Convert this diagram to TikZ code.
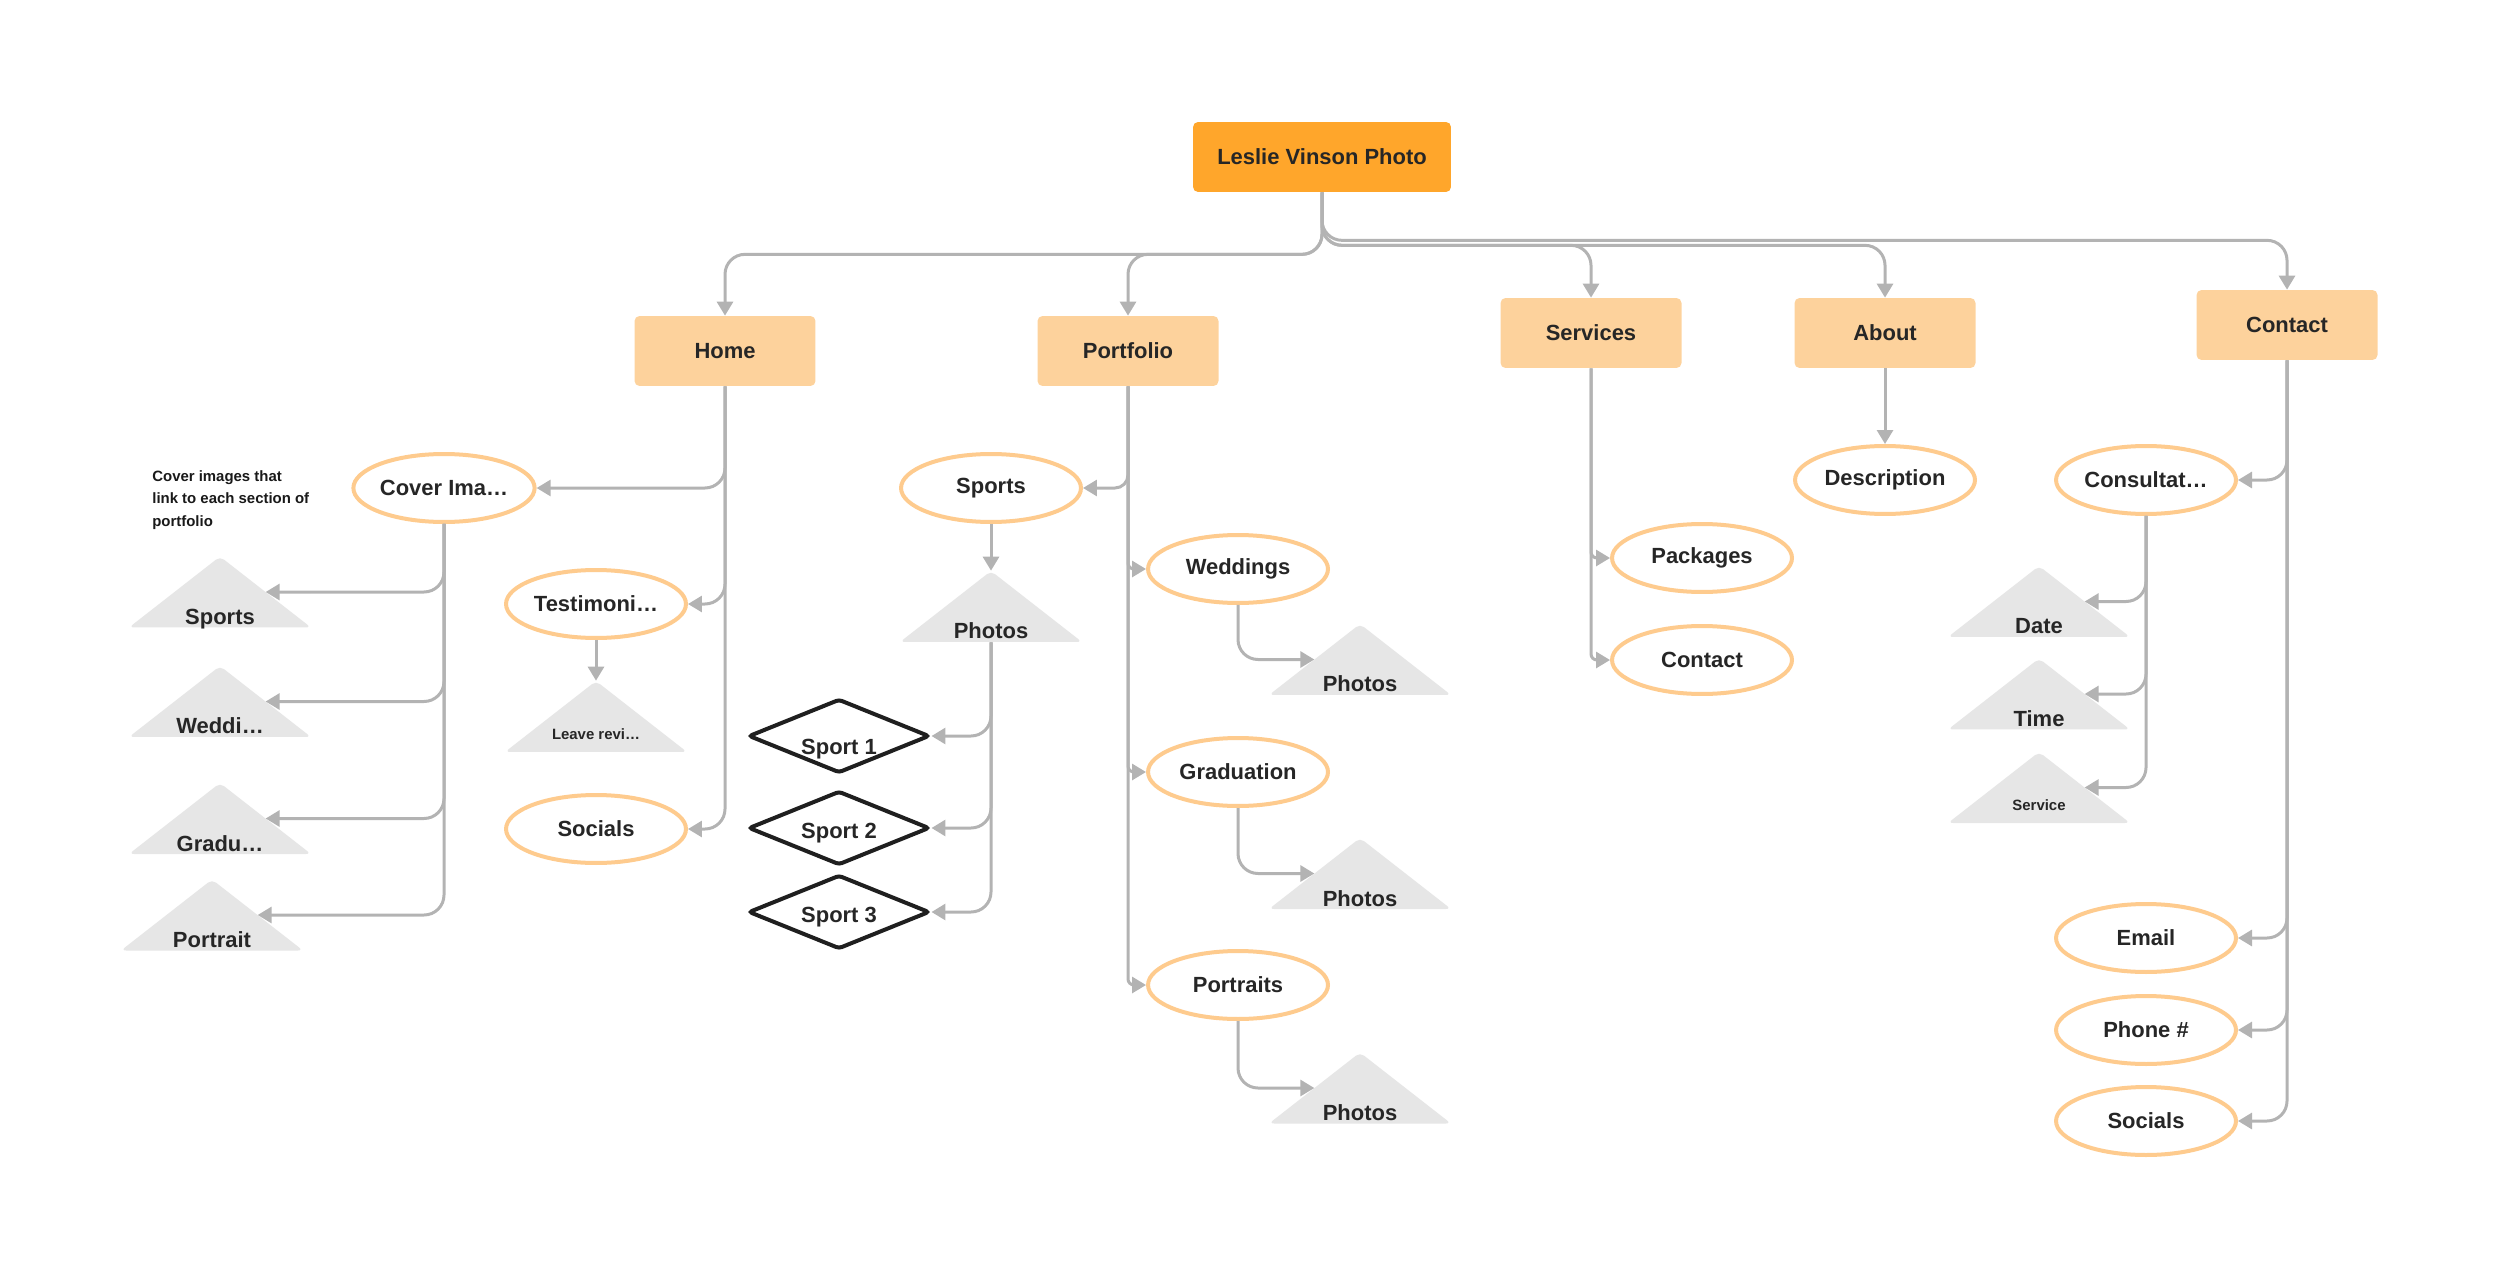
\documentclass[tikz,border=0pt]{standalone}
\usepackage{fontspec}
\setmainfont{Liberation Sans}
\usetikzlibrary{positioning,calc,arrows.meta,shapes.geometric}
\definecolor{rootorange}{HTML}{FFA62B}
\definecolor{pagepeach}{HTML}{FDD29C}
\definecolor{ovalline}{HTML}{FECB8E}
\definecolor{trigray}{HTML}{E6E6E6}
\definecolor{linkgray}{HTML}{B3B3B3}
\definecolor{inkdark}{HTML}{262626}

\begin{document}
\begin{tikzpicture}[x=0.02cm, y=-0.02cm,
	every node/.style={font=\fontsize{12.5}{15}\selectfont\bfseries, text=inkdark},
	rootbox/.style={fill=rootorange, rounded corners=0.1cm, minimum width=5.16cm, minimum height=1.4cm},
	pagebox/.style={fill=pagepeach, rounded corners=0.1cm, minimum width=3.62cm, minimum height=1.4cm},
	oval/.style={ellipse, draw=ovalline, line width=0.08cm, fill=white, minimum width=3.6cm, minimum height=1.36cm, inner sep=0pt},
	tri/.style={fill=white, inner sep=0pt, minimum width=3.64cm, minimum height=1.42cm, text height=1.3cm, text depth=0pt,
		path picture={\fill[trigray, rounded corners=0.1cm] (path picture bounding box.south west) -- (path picture bounding box.north) -- (path picture bounding box.south east) -- cycle;}},
	smalltri/.style={tri, text height=0.9cm, font=\fontsize{8.5}{10}\selectfont\bfseries},
	sportbox/.style={diamond, draw=black!88, line width=0.08cm, rounded corners=0.06cm, aspect=2.45, minimum width=3.62cm, minimum height=1.48cm, inner sep=0pt, text height=0.42cm, text depth=0pt},
	link/.style={draw=linkgray, line width=0.06cm, rounded corners=0.4cm, -{Triangle[length=0.28cm, width=0.32cm]}},
	shortlink/.style={link, rounded corners=0.12cm},
	]
\useasboundingbox (0,0) rectangle (2500,1280);

\node[rootbox] (leslie) at (1322,157) {Leslie Vinson Photo};
\node[pagebox] (home) at (725,351) {Home};
\node[pagebox] (portfolio) at (1128,351) {Portfolio};
\node[pagebox] (services) at (1591,333) {Services};
\node[pagebox] (about) at (1885,333) {About};
\node[pagebox] (contact) at (2287,325) {Contact};

\node[font=\fontsize{8.5}{12.8}\selectfont\bfseries, text=black!90, align=left, anchor=north west, inner sep=0pt] (covernote) at (152,470) {Cover images that\\link to each section of\\portfolio};
\node[oval] (coverimg) at (444,488) {Cover Ima…};
\node[tri] (cvsports) at (220,592) {Sports};
\node[tri] (cvweddings) at (220,701.5) {Weddi…};
\node[tri] (cvgrad) at (220,818.5) {Gradu…};
\node[tri] (cvportrait) at (212,915) {Portrait};
\node[oval] (testimonials) at (596,604) {Testimoni…};
\node[smalltri] (review) at (596,716.5) {Leave revi…};
\node[oval] (homesocials) at (596,829) {Socials};

\node[oval] (pfsports) at (991,488) {Sports};
\node[tri] (sportphotos) at (991,606.5) {Photos};
\node[sportbox, text height=0.72cm] (sport1) at (839,736) {Sport 1};
\node[sportbox] (sport2) at (839,828) {Sport 2};
\node[sportbox] (sport3) at (839,912) {Sport 3};
\node[oval] (weddings) at (1238,569) {Weddings};
\node[tri] (wedphotos) at (1360,659.5) {Photos};
\node[oval] (graduation) at (1238,772) {Graduation};
\node[tri] (gradphotos) at (1360,873.5) {Photos};
\node[oval] (portraits) at (1238,985) {Portraits};
\node[tri] (portphotos) at (1360,1088) {Photos};

\node[oval] (packages) at (1702,558) {Packages};
\node[oval] (svcontact) at (1702,660) {Contact};
\node[oval] (description) at (1885,480) {Description};

\node[oval] (consultation) at (2146,480) {Consultat…};
\node[tri] (date) at (2039,601.5) {Date};
\node[tri] (time) at (2039,694) {Time};
\node[smalltri] (service) at (2039,787.5) {Service};
\node[oval] (email) at (2146,938) {Email};
\node[oval] (phone) at (2146,1030) {Phone \#};
\node[oval] (ctsocials) at (2146,1121) {Socials};

\draw[link] (leslie.south) -- ++(0,62) -| (home.north);
\draw[link] (leslie.south) -- ++(0,62) -| (portfolio.north);
\draw[link] (leslie.south) -- ++(0,53) -| (services.north);
\draw[link] (leslie.south) -- ++(0,53) -| (about.north);
\draw[link] (leslie.south) -- ++(0,48) -| (contact.north);

\draw[link] (home.south) |- (coverimg.east);
\draw[link] (home.south) |- (testimonials.east);
\draw[link] (home.south) |- (homesocials.east);
\draw[link] (testimonials.south) -- (review.north);
\foreach \t in {cvsports,cvweddings,cvgrad,cvportrait}
	\draw[link] (coverimg.south) |- ($(\t.north)!.5!(\t.south east)$);

\draw[link, rounded corners=0.26cm] (portfolio.south) |- (pfsports.east);
\foreach \s in {weddings,graduation,portraits}
	\draw[shortlink] (portfolio.south) |- (\s.west);
\draw[link] (pfsports.south) -- (sportphotos.north);
\foreach \s in {sport1,sport2,sport3}
	\draw[link] (sportphotos.south) |- (\s.east);
\draw[link] (weddings.south) |- ($(wedphotos.north)!.5!(wedphotos.south west)$);
\draw[link] (graduation.south) |- ($(gradphotos.north)!.5!(gradphotos.south west)$);
\draw[link] (portraits.south) |- ($(portphotos.north)!.5!(portphotos.south west)$);

\draw[shortlink] (services.south) |- (packages.west);
\draw[shortlink] (services.south) |- (svcontact.west);
\draw[link] (about.south) -- (description.north);

\foreach \c in {consultation,email,phone,ctsocials}
	\draw[link] (contact.south) |- (\c.east);
\foreach \t in {date,time,service}
	\draw[link] (consultation.south) |- ($(\t.north)!.5!(\t.south east)$);
\end{tikzpicture}
\end{document}
